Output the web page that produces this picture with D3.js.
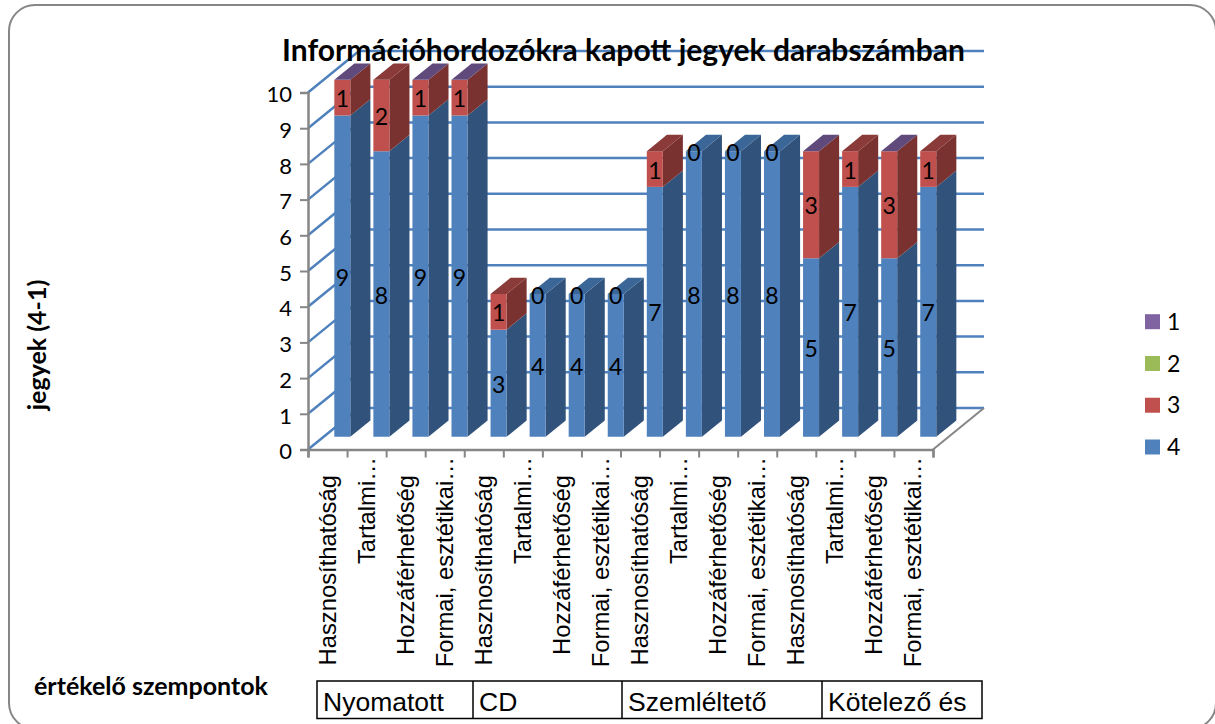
<!DOCTYPE html>
<html>
<head>
<meta charset="utf-8">
<script src="https://cdn.jsdelivr.net/npm/d3@7"></script>
<style>
html, body { margin: 0; padding: 0; background: #fff; overflow: hidden; }
text { fill: #000; }
</style>
</head>
<body>
<div id="chart"></div>
<script>
// chart values
const categories = [
    "Hasznosíthatóság", "Tartalmi…", "Hozzáférhetőség", "Formai, esztétikai…",
    "Hasznosíthatóság", "Tartalmi…", "Hozzáférhetőség", "Formai, esztétikai…",
    "Hasznosíthatóság", "Tartalmi…", "Hozzáférhetőség", "Formai, esztétikai…",
    "Hasznosíthatóság", "Tartalmi…", "Hozzáférhetőség", "Formai, esztétikai…"
];
const groups = ["Nyomatott", "CD", "Szemléltető", "Kötelező és"];
const grade4 = [9, 8, 9, 9, 3, 4, 4, 4, 7, 8, 8, 8, 5, 7, 5, 7];
const grade3 = [1, 2, 1, 1, 1, 0, 0, 0, 1, 0, 0, 0, 3, 1, 3, 1];
const legendLabels = ["1", "2", "3", "4"];
const yTicks = [0, 1, 2, 3, 4, 5, 6, 7, 8, 9, 10];
const titleText = "Információhordozókra kapott jegyek darabszámban";
const yTitle = "jegyek (4-1)";
const xTitle = "értékelő szempontok";

// which series ends up painted on the top face of each bar
const topSeries = ["1", "3", "1", "1", "3", "4", "4", "4", "3", "4", "4", "4", "1", "3", "1", "3"];

const width = 1215, height = 724;
const bodyFont = "Lato, 'Open Sans', sans-serif";
const axisFont = "'Liberation Sans', Arial, sans-serif";

const seriesColor = {"1": "#8064A2", "2": "#9BBB59", "3": "#C0504D", "4": "#4F81BD"};
const sideColor = {"3": "#7A3230", "4": "#31527A"};
const topColor = {"1": "#604A7B", "3": "#8A3A38", "4": "#3B6698"};

const svg = d3.select("#chart")
    .append("svg")
    .attr("width", width)
    .attr("height", height)
    .style("display", "block");

// outer rounded frame, runs off the right and bottom of the page
svg.append("rect")
    .attr("x", 9).attr("y", 5)
    .attr("width", 1207).attr("height", 724)
    .attr("rx", 26).attr("ry", 26)
    .attr("fill", "#fff")
    .attr("stroke", "#868686")
    .attr("stroke-width", 2);

// scales
const xBand = d3.scaleBand()
    .domain(d3.range(categories.length))
    .range([308, 933]);
const xEdge = d3.scaleLinear()
    .domain([0, categories.length])
    .range([308, 933]);
const y = d3.scaleLinear()
    .domain([0, 10])
    .range([449.5, 92.5]);
// depth of the 3d box, 0 = front of floor, 1 = back wall
const depthX = d3.scaleLinear().domain([0, 1]).range([0, 51]);
const depthY = d3.scaleLinear().domain([0, 1]).range([0, -41.5]);

const line = d3.line();
function project(px, value, z) {
    return [px + depthX(z), y(value) + depthY(z)];
}

// back wall gridlines plus the diagonal on the left wall
const wall = svg.append("g");
wall.selectAll(".grid")
    .data(yTicks)
    .enter()
    .append("path")
    .attr("class", "grid")
    .attr("d", d => line([project(308, d, 0), project(308, d, 1), project(933, d, 1)]))
    .attr("fill", "none")
    .attr("stroke", "#4F81BD")
    .attr("stroke-width", 2.5);

// floor edge on the right
wall.append("path")
    .attr("d", line([project(933, 0, 0), project(933, 0, 1)]))
    .attr("stroke", "#868686")
    .attr("stroke-width", 2)
    .attr("fill", "none");

// bars
const barWidth = 16, barInset = 10.7, zFront = 0.306, zBack = 0.7;
const bars = svg.append("g");

function drawSegment(g, i, from, to, key) {
    const x0 = xBand(i) + barInset, x1 = x0 + barWidth;
    g.append("path")
        .attr("d", line([project(x1, from, zFront), project(x1, to, zFront), project(x1, to, zBack), project(x1, from, zBack)]) + "Z")
        .attr("fill", sideColor[key]);
    g.append("path")
        .attr("d", line([project(x0, from, zFront), project(x1, from, zFront), project(x1, to, zFront), project(x0, to, zFront)]) + "Z")
        .attr("fill", seriesColor[key]);
}

categories.forEach((c, i) => {
    const g = bars.append("g");
    const total = grade4[i] + grade3[i];
    const x0 = xBand(i) + barInset, x1 = x0 + barWidth;
    drawSegment(g, i, 0, grade4[i], "4");
    if (grade3[i] > 0) drawSegment(g, i, grade4[i], total, "3");
    g.append("path")
        .attr("d", line([project(x0, total, zFront), project(x1, total, zFront), project(x1, total, zBack), project(x0, total, zBack)]) + "Z")
        .attr("fill", topColor[topSeries[i]]);
});

// data labels, series 4 in the middle of the blue part, series 3 in the middle of the red part
const labelX = i => xBand(i) + barInset + barWidth / 2 + depthX(zFront);
const labels = svg.append("g")
    .attr("font-family", bodyFont)
    .attr("font-size", 23)
    .attr("text-anchor", "middle");
labels.selectAll(".l4")
    .data(grade4)
    .enter()
    .append("text")
    .attr("x", (d, i) => labelX(i))
    .attr("y", d => y(d / 2) + depthY(zFront) + 1.5)
    .attr("dy", "0.35em")
    .text(d => d);
labels.selectAll(".l3")
    .data(grade3)
    .enter()
    .append("text")
    .attr("x", (d, i) => labelX(i))
    .attr("y", (d, i) => y(grade4[i] + d / 2) + depthY(zFront) + 1.5)
    .attr("dy", "0.35em")
    .text(d => d);

// y axis
const yAxis = svg.append("g")
    .attr("transform", "translate(308,0)")
    .call(d3.axisLeft(y).tickValues(yTicks).tickSize(8).tickPadding(8));
yAxis.selectAll("text")
    .attr("font-family", bodyFont)
    .attr("font-size", 22)
    .attr("dy", "0.42em")
    .attr("fill", "#000");

// x axis, tick marks sit on the category edges
const xAxis = svg.append("g")
    .attr("transform", "translate(0,449.5)")
    .call(d3.axisBottom(xEdge).ticks(categories.length).tickSize(8).tickFormat(""));

[yAxis, xAxis].forEach(a => {
    a.select(".domain").attr("stroke", "#868686").attr("stroke-width", 2.5);
    a.selectAll("line").attr("stroke", "#868686").attr("stroke-width", 2);
});

// category labels, rotated; the cut off ones reach closer to the axis
svg.append("g")
    .selectAll("text")
    .data(categories)
    .enter()
    .append("text")
    .attr("transform", (d, i) => {
        const top = d.endsWith("…") ? 457 : 475;
        return "translate(" + (xBand(i) + xBand.bandwidth() / 2 + 8) + "," + top + ")rotate(-90)";
    })
    .attr("text-anchor", "end")
    .attr("font-family", axisFont)
    .attr("font-size", 23.8)
    .text(d => d);

// table of groups under the labels
const tableEdges = [317, 473, 622, 822, 982];
const table = svg.append("g");
table.append("rect")
    .attr("x", tableEdges[0]).attr("y", 681)
    .attr("width", tableEdges[4] - tableEdges[0]).attr("height", 37.5)
    .attr("fill", "none")
    .attr("stroke", "#000")
    .attr("stroke-width", 1.5);
table.selectAll("line")
    .data(tableEdges.slice(1, 4))
    .enter()
    .append("line")
    .attr("x1", d => d).attr("x2", d => d)
    .attr("y1", 681).attr("y2", 718.5)
    .attr("stroke", "#000")
    .attr("stroke-width", 1.5);
table.selectAll("text")
    .data(groups)
    .enter()
    .append("text")
    .attr("x", (d, i) => tableEdges[i] + 6)
    .attr("y", 711)
    .attr("font-family", axisFont)
    .attr("font-size", 26.5)
    .text(d => d);

// legend
const legendY = d3.scalePoint()
    .domain(legendLabels)
    .range([321.7, 447]);
const legend = svg.append("g")
    .selectAll("g")
    .data(legendLabels)
    .enter()
    .append("g")
    .attr("transform", d => "translate(1145," + legendY(d) + ")");
legend.append("rect")
    .attr("y", -7.5)
    .attr("width", 15)
    .attr("height", 15)
    .attr("fill", d => seriesColor[d]);
legend.append("text")
    .attr("x", 22)
    .attr("dy", "0.35em")
    .attr("font-family", bodyFont)
    .attr("font-size", 23)
    .text(d => d);

// titles
svg.append("text")
    .attr("x", 623.5)
    .attr("y", 61)
    .attr("text-anchor", "middle")
    .attr("font-family", bodyFont)
    .attr("font-weight", "bold")
    .attr("font-size", 30)
    .text(titleText);
svg.append("text")
    .attr("transform", "translate(46,345)rotate(-90)")
    .attr("text-anchor", "middle")
    .attr("font-family", bodyFont)
    .attr("font-weight", "bold")
    .attr("font-size", 25)
    .text(yTitle);
svg.append("text")
    .attr("x", 34)
    .attr("y", 695)
    .attr("font-family", bodyFont)
    .attr("font-weight", "bold")
    .attr("font-size", 25)
    .text(xTitle);
</script>
</body>
</html>
